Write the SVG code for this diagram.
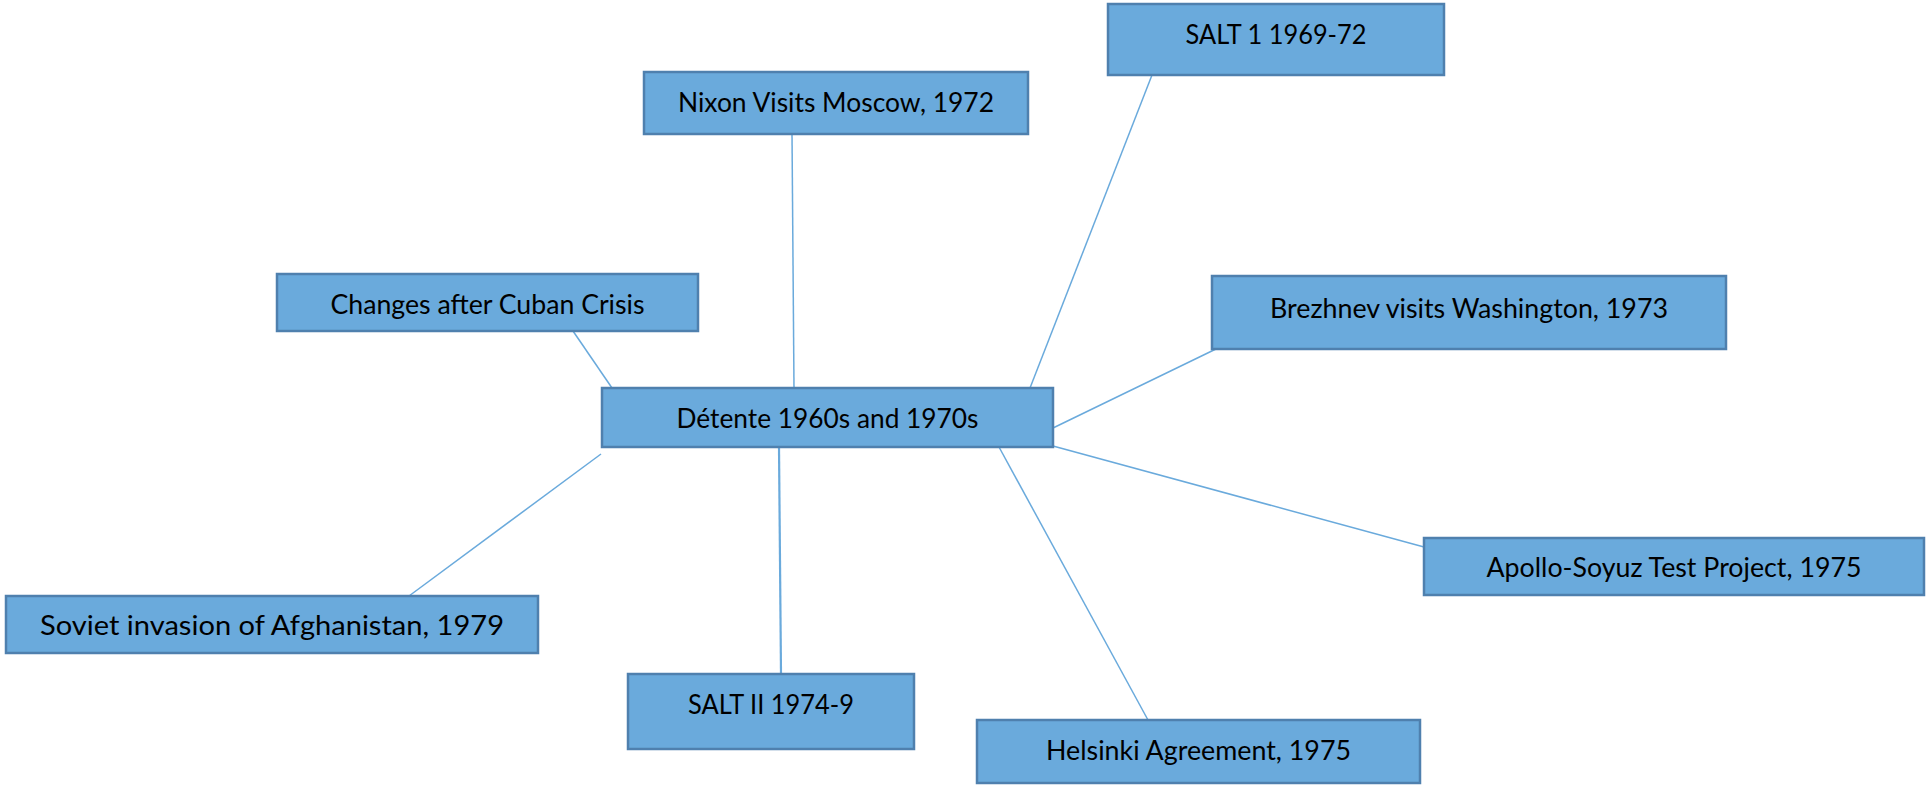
<svg xmlns="http://www.w3.org/2000/svg" width="1932" height="787" viewBox="0 0 1932 787">
<style>
.box{fill:#6aaadc;stroke:#4f80ae;stroke-width:2.5}
.lbl{font-family:Lato,"Liberation Sans",sans-serif;font-size:27px;fill:#000;text-anchor:middle}
.con{stroke:#6aaadc;stroke-width:1.5;fill:none}
</style>
<rect width="1932" height="787" fill="#fff"/>
<g id="connectors">
<line class="con" x1="792" y1="134" x2="794" y2="388"/>
<line class="con" x1="1152" y1="75" x2="1030" y2="388"/>
<line class="con" x1="573" y1="331" x2="612" y2="388"/>
<line class="con" x1="1218" y1="348" x2="1053" y2="428"/>
<line class="con" x1="1053" y1="446" x2="1424" y2="547"/>
<line class="con" x1="999" y1="447" x2="1148" y2="720"/>
<line class="con" x1="779" y1="448" x2="781" y2="674" style="stroke-width:2.2"/>
<line class="con" x1="601" y1="454" x2="409" y2="596"/>
</g>
<g id="salt1"><rect class="box" x="1108" y="4" width="336" height="71"/><text class="lbl" x="1276" y="44" textLength="181" lengthAdjust="spacingAndGlyphs">SALT 1 1969-72</text></g>
<g id="nixon"><rect class="box" x="644" y="72" width="384" height="62"/><text class="lbl" x="836" y="112" textLength="316" lengthAdjust="spacingAndGlyphs">Nixon Visits Moscow, 1972</text></g>
<g id="changes"><rect class="box" x="277" y="274" width="421" height="57"/><text class="lbl" x="487.5" y="314" textLength="314" lengthAdjust="spacingAndGlyphs">Changes after Cuban Crisis</text></g>
<g id="brezhnev"><rect class="box" x="1212" y="276" width="514" height="73"/><text class="lbl" x="1469" y="318" textLength="398" lengthAdjust="spacingAndGlyphs">Brezhnev visits Washington, 1973</text></g>
<g id="detente"><rect class="box" x="602" y="388" width="451" height="59"/><text class="lbl" x="827.5" y="428" textLength="302" lengthAdjust="spacingAndGlyphs">Détente 1960s and 1970s</text></g>
<g id="apollo"><rect class="box" x="1424" y="538" width="500" height="57"/><text class="lbl" x="1674" y="577" textLength="375" lengthAdjust="spacingAndGlyphs">Apollo-Soyuz Test Project, 1975</text></g>
<g id="soviet"><rect class="box" x="6" y="596" width="532" height="57"/><text class="lbl" x="272" y="635" textLength="464" lengthAdjust="spacingAndGlyphs">Soviet invasion of Afghanistan, 1979</text></g>
<g id="salt2"><rect class="box" x="628" y="674" width="286" height="75"/><text class="lbl" x="771" y="714" textLength="166" lengthAdjust="spacingAndGlyphs">SALT II 1974-9</text></g>
<g id="helsinki"><rect class="box" x="977" y="720" width="443" height="63"/><text class="lbl" x="1198.5" y="760" textLength="305" lengthAdjust="spacingAndGlyphs">Helsinki Agreement, 1975</text></g>
</svg>
